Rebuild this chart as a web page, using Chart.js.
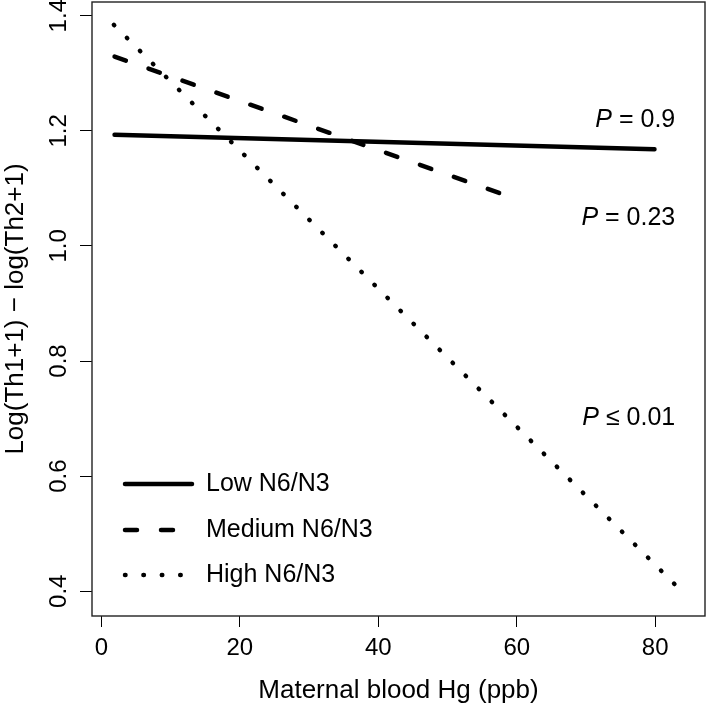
<!DOCTYPE html>
<html>
<head>
<meta charset="utf-8">
<script src="https://cdn.jsdelivr.net/npm/chart.js@4.4.0/dist/chart.umd.min.js"></script>
<style>
  body { margin: 0; background: #fff; }
  canvas { display: block; }
</style>
</head>
<body>
<canvas id="hg_graph" width="709" height="706"></canvas>
<script>
// 各群の回帰直線(両端の値)
const seriesNames = ["Low N6/N3", "Medium N6/N3", "High N6/N3"];
const lowX  = [1.9, 79.9];
const lowY  = [1.193, 1.168];
const medX  = [1.9, 59.1];
const medY  = [1.329, 1.085];
const highX = [1.8, 83.0];
const highY = [1.384, 0.410];

// 軸の目盛り
const xTicks = [0, 20, 40, 60, 80];
const yTicks = [0.4, 0.6, 0.8, 1.0, 1.2, 1.4];

// P値のラベル
const pOps    = ["=", "=", "\u2264"];
const pValues = ["0.9", "0.23", "0.01"];

const FONT = "'Liberation Sans', Arial, Helvetica, sans-serif";

function to_points(xs, ys){
    let pts = [];
    for (let i = 0; i < xs.length; i++){
        pts.push({x: xs[i], y: ys[i]});
    }
    return pts;
}

// 枠・y目盛りラベル・凡例・P値を描く
const extras = {
    id: "extras",
    afterDraw(chart){
        const ctx = chart.ctx;
        const area = chart.chartArea;
        const xs = chart.scales.x;
        const ys = chart.scales.y;

        ctx.save();
        // 枠
        ctx.strokeStyle = "#222";
        ctx.lineWidth = 1.4;
        ctx.strokeRect(area.left, area.top, area.right - area.left, area.bottom - area.top);

        // y軸の目盛りラベル(回転)
        ctx.fillStyle = "#000";
        ctx.font = "24px " + FONT;
        ctx.textAlign = "center";
        ctx.textBaseline = "middle";
        for (let v of yTicks){
            const py = ys.getPixelForValue(v);
            ctx.save();
            ctx.translate(59, py);
            ctx.rotate(-Math.PI / 2);
            ctx.fillText(v.toFixed(1), 0, 0);
            ctx.restore();
        }

        // 凡例
        const legendY = [484, 530, 575];
        chart.data.datasets.forEach(function(ds, i){
            ctx.save();
            ctx.strokeStyle = ds.borderColor;
            ctx.lineWidth = ds.borderWidth;
            ctx.lineCap = ds.borderCapStyle;
            ctx.setLineDash(ds.borderDash);
            ctx.beginPath();
            ctx.moveTo(125, legendY[i]);
            ctx.lineTo(192, legendY[i]);
            ctx.stroke();
            ctx.restore();
            ctx.font = "25px " + FONT;
            ctx.textAlign = "left";
            ctx.fillText(ds.label, 206, legendY[i]);
        });

        // P値(右端をそろえる)
        const pAt = [[82.9, 1.219], [82.9, 1.0487], [82.9, 0.7009]];
        for (let i = 0; i < pValues.length; i++){
            const rx = xs.getPixelForValue(pAt[i][0]);
            const py = ys.getPixelForValue(pAt[i][1]);
            const rest = " " + pOps[i] + " " + pValues[i];
            ctx.font = "italic 25px " + FONT;
            const wP = ctx.measureText("P").width;
            ctx.font = "25px " + FONT;
            const wR = ctx.measureText(rest).width;
            const x0 = rx - wP - wR;
            ctx.textAlign = "left";
            ctx.font = "italic 25px " + FONT;
            ctx.fillText("P", x0, py);
            ctx.font = "25px " + FONT;
            ctx.fillText(rest, x0 + wP, py);
        }
        ctx.restore();
    }
};

window.addEventListener("load", function(){
    draw_hg_graph();
});

function draw_hg_graph(){
    const ctx = document.getElementById("hg_graph").getContext("2d");
    const myChart = new Chart(ctx, {
        type: "line",
        data: {
            datasets: [{
                label: seriesNames[0],
                data: to_points(lowX, lowY),
                borderColor: "#000",
                borderWidth: 4.5,
                borderCapStyle: "round",
                borderDash: [],
                pointRadius: 0
            }, {
                label: seriesNames[1],
                data: to_points(medX, medY),
                borderColor: "#000",
                borderWidth: 4.5,
                borderCapStyle: "round",
                borderDash: [12, 24],
                pointRadius: 0
            }, {
                label: seriesNames[2],
                data: to_points(highX, highY),
                borderColor: "#000",
                borderWidth: 4.5,
                borderCapStyle: "round",
                borderDash: [0.5, 17.9],
                pointRadius: 0
            }]
        },
        options: {
            responsive: false,
            animation: false,
            events: [],
            layout: { padding: { top: 2, right: 4, left: 0, bottom: 0 } },
            plugins: {
                legend: { display: false },
                tooltip: { enabled: false }
            },
            scales: {
                x: {
                    type: "linear",
                    min: -1.36,
                    max: 87.2,
                    afterBuildTicks: function(s){ s.ticks = xTicks.map(v => ({value: v})); },
                    afterFit: function(s){ s.height = 90; },
                    border: { display: false },
                    grid: { drawOnChartArea: false, drawTicks: true, tickLength: 11, color: "#000", lineWidth: 1 },
                    ticks: { font: { size: 24, family: FONT }, color: "#000", padding: 7, maxRotation: 0, autoSkip: false },
                    title: { display: true, text: "Maternal blood Hg (ppb)", color: "#000",
                             font: { size: 26, family: FONT }, padding: { top: 0, bottom: 0 } }
                },
                y: {
                    type: "linear",
                    min: 0.357,
                    max: 1.4238,
                    afterBuildTicks: function(s){ s.ticks = yTicks.map(v => ({value: v})); },
                    afterFit: function(s){ s.width = 92; },
                    border: { display: false },
                    grid: { drawOnChartArea: false, drawTicks: true, tickLength: 12, color: "#000", lineWidth: 1 },
                    ticks: { display: false },
                    title: { display: true, text: "Log(Th1+1) \u2212 log(Th2+1)", color: "#000",
                             font: { size: 26, family: FONT }, padding: { top: 0, bottom: 0 } }
                }
            }
        },
        plugins: [extras]
    });
}
</script>
</body>
</html>
